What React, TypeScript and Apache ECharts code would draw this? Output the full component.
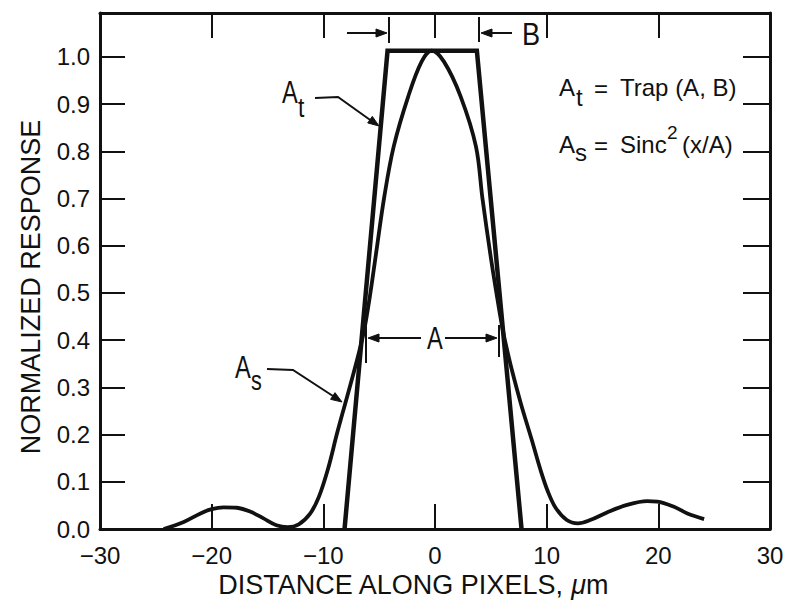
import React, { useEffect, useRef } from "react";
import * as echarts from "echarts";

// ---- data ----
const xLabelValues = [-30, -20, -10, 0, 10, 20, 30];
const xInnerTickValues = [-20, -10, 0, 10, 20];
const yLabelValues = [0, 0.1, 0.2, 0.3, 0.4, 0.5, 0.6, 0.7, 0.8, 0.9, 1.0];
const yRightTickValues = [0.1, 0.2, 0.3, 0.4, 0.5, 0.6, 0.7, 0.8, 0.9, 1.0];

// A_t = Trap(A, B)
const trapX = [-8.1, -4.25, 3.75, 7.75];
const trapY = [0, 1.013, 1.013, 0];

// A_s = Sinc^2(x/A)
const sincX = [
  -24.3, -22.5, -21.0, -20.0, -18.95, -17.75, -16.56, -15.4, -14.2, -13.2, -12.2,
  -11.2, -10.4, -9.55, -8.8, -8.05, -7.35, -6.85, -6.35, -5.85, -5.3, -4.54, -3.7,
  -2.4, -1.2, -0.3, 0.8, 2.3, 3.67, 4.25, 5.0, 5.5, 6.0, 6.4, 6.85, 7.7, 8.65,
  9.45, 10.1, 10.8, 11.8, 12.8, 13.9, 15.4, 17.2, 19.0, 19.9, 21.4, 22.6, 24.1,
];
const sincY = [
  0.0, 0.015, 0.033, 0.042, 0.046, 0.045, 0.037, 0.023, 0.008, 0.004, 0.01,
  0.032, 0.068, 0.13, 0.2, 0.265, 0.325, 0.37, 0.42, 0.49, 0.58, 0.704, 0.81,
  0.916, 0.99, 1.013, 0.99, 0.916, 0.81, 0.7, 0.575, 0.5, 0.43, 0.385, 0.34,
  0.265, 0.19, 0.125, 0.08, 0.045, 0.019, 0.012, 0.019, 0.035, 0.051, 0.059,
  0.058, 0.047, 0.033, 0.021,
];

const INK = "#111111";
const FONT = "'Liberation Sans', Arial, Helvetica, sans-serif";

function arrowHead(tx: number, ty: number, fx: number, fy: number, len = 11, half = 4) {
  const dx = tx - fx;
  const dy = ty - fy;
  const d = Math.sqrt(dx * dx + dy * dy) || 1;
  const ux = dx / d;
  const uy = dy / d;
  const bx = tx - ux * len;
  const by = ty - uy * len;
  return {
    type: "polygon",
    shape: {
      points: [
        [tx, ty],
        [bx - uy * half, by + ux * half],
        [bx + uy * half, by - ux * half],
      ],
    },
    style: { fill: INK, stroke: INK, lineWidth: 1 },
    silent: true,
  };
}

function seg(x1: number, y1: number, x2: number, y2: number, w = 2) {
  return {
    type: "line",
    shape: { x1, y1, x2, y2 },
    style: { stroke: INK, lineWidth: w },
    silent: true,
  };
}

function poly(points: number[][], w = 2) {
  return {
    type: "polyline",
    shape: { points },
    style: { stroke: INK, lineWidth: w, fill: null },
    silent: true,
  };
}

function txt(text: string, x: number, y: number, size: number, align = "left", extra: any = {}) {
  return {
    type: "text",
    x,
    y,
    silent: true,
    ...extra,
    style: {
      text,
      fill: INK,
      fontSize: size,
      fontFamily: FONT,
      textAlign: align,
      align,
      textVerticalAlign: "middle",
      verticalAlign: "middle",
      ...(extra.style || {}),
    },
  };
}

export default function App() {
  const ref = useRef<HTMLDivElement>(null);

  useEffect(() => {
    if (!ref.current) return;
    const chart = echarts.init(ref.current, null, { renderer: "svg" });

    const axisLine = { show: true, onZero: false, lineStyle: { color: INK, width: 3 } };
    const tickStyle = { color: INK, width: 2 };
    const narrow = { scaleX: 0.74 };

    const graphic: any[] = [
      // axis titles
      txt("NORMALIZED RESPONSE", 31, 287, 27, "center", { rotation: Math.PI / 2 }),
      {
        type: "text",
        x: 413,
        y: 585,
        silent: true,
        style: {
          text: "DISTANCE ALONG PIXELS, {i|μ}m",
          fill: INK,
          fontSize: 27,
          fontFamily: FONT,
          textAlign: "center",
          align: "center",
          textVerticalAlign: "middle",
          verticalAlign: "middle",
          rich: { i: { fontStyle: "italic", fontSize: 27, fontFamily: FONT, fill: INK } },
        },
      },
      // formulas
      txt("A", 559, 87, 24),
      txt("t", 576, 97, 24),
      txt("=", 594, 88, 24),
      txt("Trap (A, B)", 620, 87, 24),
      txt("A", 559, 144, 24),
      txt("s", 575, 152, 24),
      txt("=", 594, 145, 24),
      txt("Sinc", 620, 144, 24),
      txt("2", 667, 132, 19),
      txt("(x/A)", 682, 144, 24),
      // A_t label with leader
      txt("A", 282, 92, 32, "left", narrow),
      txt("t", 298, 107, 27, "left", { scaleX: 0.85 }),
      poly([[315, 98], [338, 97], [373, 122]]),
      arrowHead(379, 126, 338, 97),
      // A_s label with leader
      txt("A", 235, 367, 32, "left", narrow),
      txt("s", 251, 381, 27, "left", { scaleX: 0.8 }),
      poly([[267, 369], [293, 370], [336, 398]]),
      arrowHead(342, 402, 293, 370),
      // A dimension
      seg(366, 320, 366, 363),
      seg(499, 325, 499, 357),
      seg(421, 338, 372, 338),
      arrowHead(368, 338, 421, 338),
      seg(445, 338, 492, 338),
      arrowHead(497, 338, 445, 338),
      txt("A", 435, 338, 32, "center", narrow),
      // B dimension
      seg(389, 17, 389, 43),
      seg(479, 17, 479, 42),
      seg(347, 33, 380, 33),
      arrowHead(387, 33, 347, 33),
      seg(512, 33, 488, 33),
      arrowHead(481, 33, 512, 33),
      txt("B", 531, 34, 32, "center", { scaleX: 0.85 }),
    ];

    chart.setOption({
      animation: false,
      backgroundColor: "#ffffff",
      grid: { left: 100, right: 17, top: 13, bottom: 84, containLabel: false },
      xAxis: [
        {
          type: "value",
          position: "bottom",
          min: -30,
          max: 30,
          axisLine,
          axisTick: {
            show: true,
            inside: true,
            length: 25,
            lineStyle: tickStyle,
            customValues: xInnerTickValues,
          },
          axisLabel: {
            show: true,
            customValues: xLabelValues,
            color: INK,
            fontSize: 24,
            fontFamily: FONT,
            margin: 14,
            formatter: (v: number) => String(v).replace("-", "\u2212"),
          },
          splitLine: { show: false },
        },
        {
          type: "value",
          position: "top",
          min: -30,
          max: 30,
          axisLine,
          axisTick: {
            show: true,
            inside: true,
            length: 25,
            lineStyle: tickStyle,
            customValues: xInnerTickValues,
          },
          axisLabel: { show: false },
          splitLine: { show: false },
        },
      ],
      yAxis: [
        {
          type: "value",
          position: "left",
          min: 0,
          max: 1.093,
          axisLine,
          axisTick: {
            show: true,
            inside: true,
            length: 25,
            lineStyle: tickStyle,
            customValues: yLabelValues,
          },
          axisLabel: {
            show: true,
            customValues: yLabelValues,
            color: INK,
            fontSize: 24,
            fontFamily: FONT,
            margin: 10,
            formatter: (v: number) => v.toFixed(1),
          },
          splitLine: { show: false },
        },
        {
          type: "value",
          position: "right",
          min: 0,
          max: 1.093,
          axisLine,
          axisTick: {
            show: true,
            inside: true,
            length: 27,
            lineStyle: tickStyle,
            customValues: yRightTickValues,
          },
          axisLabel: { show: false },
          splitLine: { show: false },
        },
      ],
      series: [
        {
          name: "A_t",
          type: "line",
          xAxisIndex: 0,
          yAxisIndex: 0,
          data: trapX.map((x, i) => [x, trapY[i]]),
          symbol: "none",
          lineStyle: { color: INK, width: 4.5, join: "miter" },
          clip: false,
        },
        {
          name: "A_s",
          type: "line",
          xAxisIndex: 0,
          yAxisIndex: 0,
          data: sincX.map((x, i) => [x, sincY[i]]),
          symbol: "none",
          smooth: 0.35,
          lineStyle: { color: INK, width: 3.8 },
          clip: false,
        },
      ],
      graphic,
    });

    return () => chart.dispose();
  }, []);

  return (
    <div
      ref={ref}
      style={{ position: "fixed", left: 0, top: 0, width: 787, height: 613, background: "#fff" }}
    />
  );
}
